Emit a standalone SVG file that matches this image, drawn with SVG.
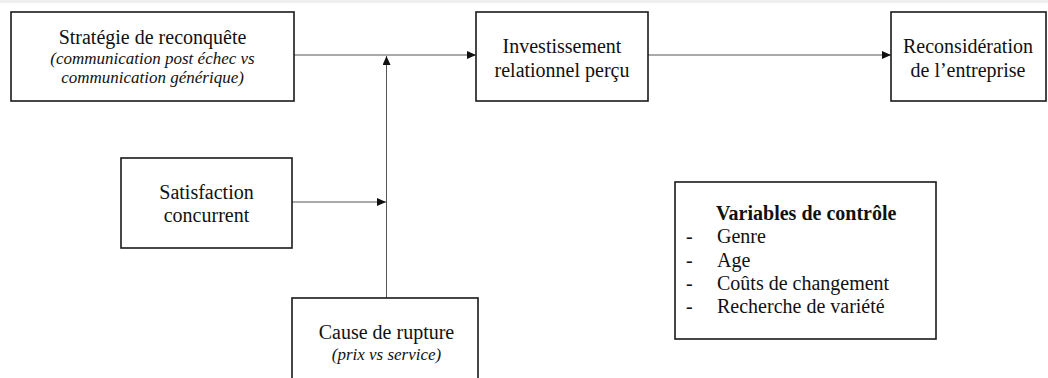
<svg xmlns="http://www.w3.org/2000/svg" width="1048" height="378" viewBox="0 0 1048 378">
<style>
.box{fill:#fff;stroke:#1a1a1a;stroke-width:1.6}
.t{font-family:'Liberation Serif','Times New Roman',serif;font-size:20px;fill:#111;text-anchor:middle}
.i{font-style:italic;font-size:17px}
.b{font-weight:bold}
.l{text-anchor:start}
.c{stroke:#555;stroke-width:1;fill:none}
</style>
<defs>
<marker id="ah" viewBox="0 0 9 8" refX="9" refY="4" markerWidth="9" markerHeight="8" markerUnits="userSpaceOnUse" orient="auto">
<path d="M0,0 L9,4 L0,8 z" fill="#111"/>
</marker>
</defs>
<rect x="0" y="0" width="1048" height="378" fill="#fff"/>
<rect x="0" y="0" width="1048" height="3" fill="#efefef"/>
<g id="connectors">
<line class="c" x1="294" y1="55" x2="476" y2="55" marker-end="url(#ah)"/>
<line class="c" x1="648" y1="55" x2="891" y2="55" marker-end="url(#ah)"/>
<line class="c" x1="292" y1="202" x2="386" y2="202" marker-end="url(#ah)"/>
<line class="c" x1="386.5" y1="298" x2="386.5" y2="56" marker-end="url(#ah)"/>
</g>
<g id="strategie">
<rect class="box" x="11" y="12" width="283" height="89"/>
<text class="t" x="152.5" y="44">Stratégie de reconquête</text>
<text class="t i" x="152.5" y="64">(communication post échec vs</text>
<text class="t i" x="152.5" y="83">communication générique)</text>
</g>
<g id="investissement">
<rect class="box" x="476" y="12" width="172" height="89"/>
<text class="t" x="562" y="53">Investissement</text>
<text class="t" x="562" y="77">relationnel perçu</text>
</g>
<g id="reconsideration">
<rect class="box" x="891" y="12" width="155" height="89"/>
<text class="t" x="968" y="53">Reconsidération</text>
<text class="t" x="968" y="77">de l’entreprise</text>
</g>
<g id="satisfaction">
<rect class="box" x="121" y="158" width="171" height="90"/>
<text class="t" x="206.5" y="199">Satisfaction</text>
<text class="t" x="206.5" y="222">concurrent</text>
</g>
<g id="cause">
<rect class="box" x="292" y="298" width="186" height="90"/>
<text class="t" x="386.5" y="339">Cause de rupture</text>
<text class="t i" x="386.5" y="360">(prix vs service)</text>
</g>
<g id="controle">
<rect class="box" x="675" y="182" width="261" height="157"/>
<text class="t b l" x="716" y="220">Variables de contrôle</text>
<text class="t l" x="686" y="243">-</text>
<text class="t l" x="717" y="243">Genre</text>
<text class="t l" x="686" y="266.5">-</text>
<text class="t l" x="717" y="266.5">Age</text>
<text class="t l" x="686" y="290">-</text>
<text class="t l" x="717" y="290">Coûts de changement</text>
<text class="t l" x="686" y="313">-</text>
<text class="t l" x="717" y="313">Recherche de variété</text>
</g>
</svg>
